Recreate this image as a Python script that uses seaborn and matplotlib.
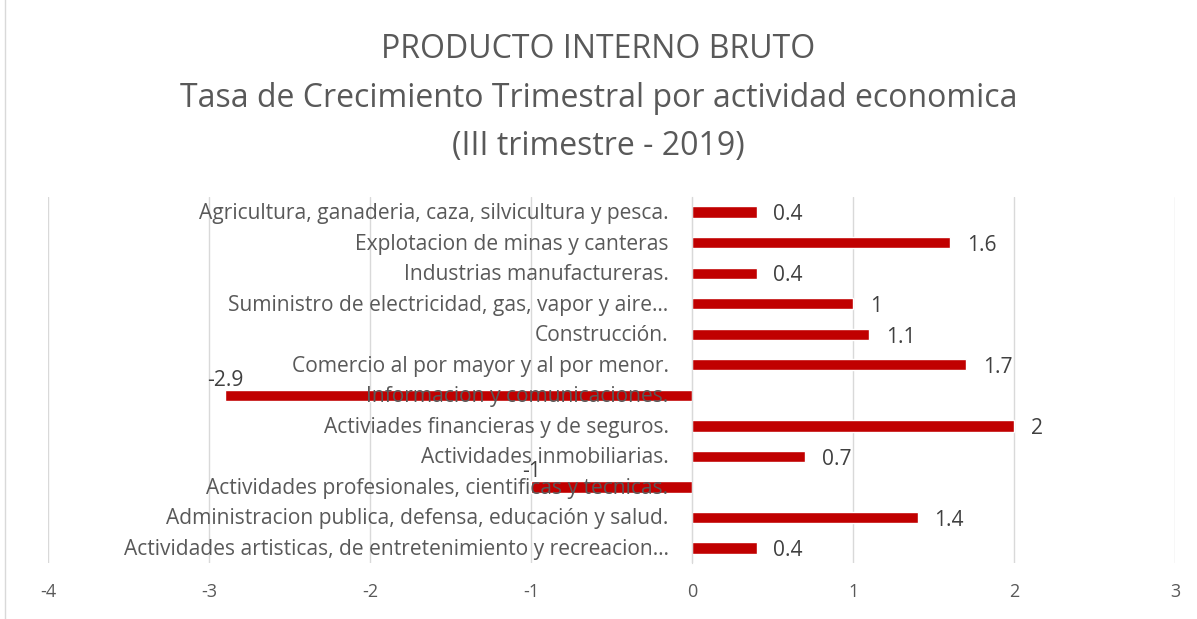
import matplotlib
matplotlib.use("Agg")
import matplotlib.pyplot as plt
import seaborn as sns
import pandas as pd
from matplotlib.patches import Rectangle

# data
actividades = [
    "Agricultura, ganaderia, caza, silvicultura y pesca.",
    "Explotacion de minas y canteras",
    "Industrias manufactureras.",
    "Suministro de electricidad, gas, vapor y aire…",
    "Construcción.",
    "Comercio al por mayor y al por menor.",
    "Informacion y comunicaciones.",
    "Activiades financieras y de seguros.",
    "Actividades inmobiliarias.",
    "Actividades profesionales, cientificas y tecnicas.",
    "Administracion publica, defensa, educación y salud.",
    "Actividades artisticas, de entretenimiento y recreacion…",
]
tasas = [0.4, 1.6, 0.4, 1, 1.1, 1.7, -2.9, 2, 0.7, -1, 1.4, 0.4]
xticks = [-4, -3, -2, -1, 0, 1, 2, 3]

df = pd.DataFrame({"actividad": actividades, "tasa": tasas})

sns.set_style("white")
plt.rcParams["font.family"] = ["Open Sans", "DejaVu Sans"]
gris = "#595959"

fig = plt.figure(figsize=(11.97, 6.19), dpi=100)
ax = fig.add_axes([0.040, 0.090, 0.942, 0.592])

sns.barplot(data=df, x="tasa", y="actividad", orient="h", color="#C00000",
            saturation=1, width=0.37, ax=ax)

ax.set_xlim(-4, 3)
ax.set_xticks(xticks)
ax.set_xticklabels([str(t) for t in xticks], color=gris, fontsize=13)
ax.tick_params(axis="x", length=0, pad=14)
ax.set_xlabel("")
ax.set_ylabel("")
ax.xaxis.grid(True, color="#D9D9D9", lw=1)
ax.set_axisbelow(True)
for s in ["top", "right", "bottom"]:
    ax.spines[s].set_visible(False)
ax.spines["left"].set_position(("data", 0))
ax.spines["left"].set_color("#D9D9D9")
ax.set_yticks(range(len(actividades)))
ax.set_yticklabels([])
ax.tick_params(axis="y", length=0)

# category labels drawn on top of the bars, right-aligned just left of zero
for i, lab in enumerate(actividades):
    ax.annotate(lab, (0, i), xytext=(-17, -1), textcoords="offset points",
                ha="right", va="center", fontsize=15.1, color=gris, zorder=6)

# value labels
for i, v in enumerate(tasas):
    txt = f"{v:g}"
    if v >= 0:
        ax.annotate(txt, (v, i), xytext=(12, -2), textcoords="offset points",
                    ha="left", va="center", fontsize=15.1, color="#404040")
    else:
        ax.annotate(txt, (v, i), xytext=(0, 11), textcoords="offset points",
                    ha="center", va="center", fontsize=15.1, color="#404040")

fig.text(0.5, 0.920, "PRODUCTO INTERNO BRUTO", ha="center", va="center",
         fontsize=23, color=gris)
fig.text(0.5, 0.841, "Tasa de Crecimiento Trimestral por actividad economica",
         ha="center", va="center", fontsize=23, color=gris)
fig.text(0.5, 0.763, "(III trimestre - 2019)", ha="center", va="center",
         fontsize=23, color=gris)

fig.patches.append(Rectangle((0.004, -0.01), 1.2, 1.2, transform=fig.transFigure,
                             fill=False, edgecolor="#D9D9D9", lw=1))

fig.savefig("out.png", dpi=100)
